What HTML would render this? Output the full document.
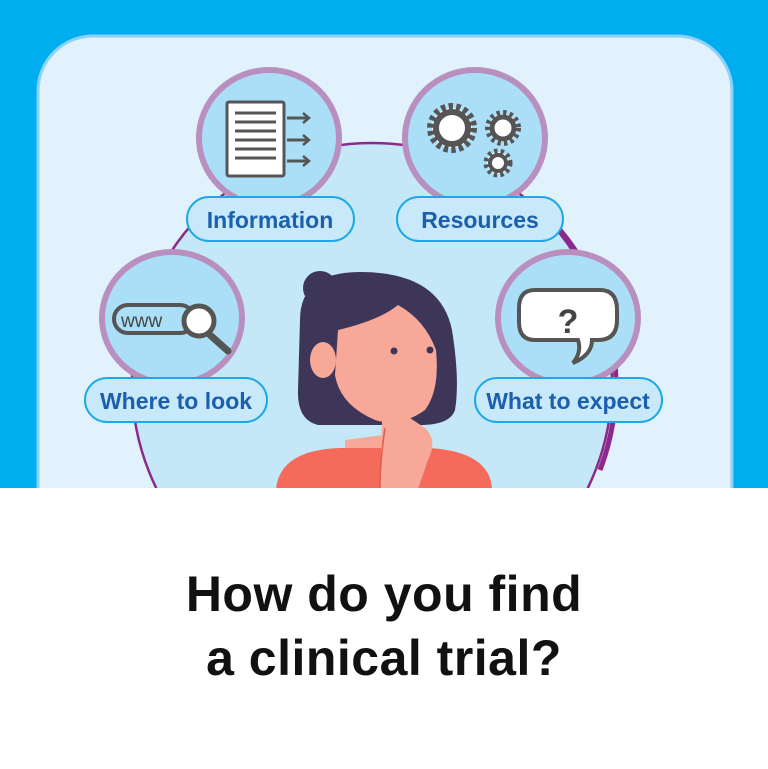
<!DOCTYPE html>
<html><head><meta charset="utf-8"><style>
html,body{margin:0;padding:0;background:#fff;}
body{width:768px;height:769px;position:relative;overflow:hidden;font-family:"Liberation Sans",sans-serif;}
.title{position:absolute;left:0;width:768px;text-align:center;font-size:50px;font-weight:bold;color:#111;line-height:64px;top:562px;letter-spacing:0.5px;}
</style></head><body>
<svg width="768" height="488" style="position:absolute;left:0;top:0" xmlns="http://www.w3.org/2000/svg">
<defs><clipPath id="pc"><rect x="38" y="36" width="694" height="500" rx="55"/></clipPath></defs>
<rect width="768" height="488" fill="#00AEEF"/>
<rect x="38" y="36" width="694" height="520" rx="55" fill="#E1F2FC" stroke="#8CD2F4" stroke-width="3"/>
<g clip-path="url(#pc)">
<circle cx="372" cy="383" r="240" fill="#C5E8F8" stroke="#8B2A8C" stroke-width="2.5"/>
<path d="M560 230 A240 240 0 0 1 600 470" fill="none" stroke="#8B2A8C" stroke-width="5"/>
<circle cx="320" cy="288" r="17" fill="#3D3658"/>
<path d="M300 320 Q300 272 360 272 Q440 272 452 330 Q460 380 455 410 Q450 425 420 425 L318 425 Q297 420 298 390 Z" fill="#3D3658"/>
<path d="M345 440 L345 470 L420 470 L420 430 Z" fill="#F8A898"/>
<path d="M338 330 Q380 320 398 305 Q425 320 436 350 Q440 390 425 410 Q400 428 375 420 Q340 405 335 375 Z" fill="#F8A898"/>
<ellipse cx="323" cy="360" rx="13" ry="18" fill="#F8A898"/>
<path d="M338 330 Q380 318 398 303 L400 290 Q360 290 340 320 Z" fill="#3D3658"/>
<circle cx="394" cy="351" r="3.5" fill="#3D3658"/><circle cx="430" cy="350" r="3.5" fill="#3D3658"/>
<path d="M276 489 Q280 450 340 448 L430 448 Q490 452 492 489 Z" fill="#F46B5B"/>
<path d="M380 489 L382 420 Q395 405 410 418 L425 428 Q438 440 428 460 L418 489 Z" fill="#F8A898"/>
<path d="M385 428 Q380 460 380 489" stroke="#D9604F" stroke-width="1.5" fill="none"/>
</g>
<g fill="#ABDFF8" stroke="#B98FC0" stroke-width="6">
<ellipse cx="269" cy="138" rx="70" ry="68"/>
<ellipse cx="475" cy="138" rx="70" ry="68"/>
<ellipse cx="172" cy="318" rx="70" ry="66"/>
<ellipse cx="568" cy="318" rx="70" ry="66"/>
</g>
<rect x="227" y="102" width="57" height="74" fill="#fff" stroke="#555" stroke-width="3" rx="2"/>
<g stroke="#555" stroke-width="3">
<line x1="235" y1="113" x2="276" y2="113"/><line x1="235" y1="122" x2="276" y2="122"/><line x1="235" y1="131" x2="276" y2="131"/><line x1="235" y1="140" x2="276" y2="140"/><line x1="235" y1="149" x2="276" y2="149"/><line x1="235" y1="158" x2="276" y2="158"/>
<line x1="287" y1="118" x2="309" y2="118"/><line x1="287" y1="140" x2="309" y2="140"/><line x1="287" y1="161" x2="309" y2="161"/>
</g>
<g fill="none" stroke="#555" stroke-width="2.5"><path d="M303 113l6 5-6 5M303 135l6 5-6 5M303 156l6 5-6 5"/></g>
<circle cx="452" cy="128" r="20" fill="#fff" stroke="#555" stroke-width="10" stroke-dasharray="4 3"/>
<circle cx="452" cy="128" r="16" fill="#fff" stroke="#555" stroke-width="6"/>
<circle cx="503" cy="128" r="14" fill="#fff" stroke="#555" stroke-width="8" stroke-dasharray="3 3"/>
<circle cx="503" cy="128" r="11" fill="#fff" stroke="#555" stroke-width="5"/>
<circle cx="498" cy="163" r="11" fill="#fff" stroke="#555" stroke-width="7" stroke-dasharray="3 3"/>
<circle cx="498" cy="163" r="8" fill="#fff" stroke="#555" stroke-width="4"/>
<rect x="114" y="305" width="80" height="28" rx="14" fill="#ABDFF8" stroke="#555" stroke-width="4"/>
<text x="121" y="327" font-size="19" font-family="Liberation Sans,sans-serif" fill="#444">www</text>
<line x1="210" y1="335" x2="228" y2="351" stroke="#555" stroke-width="7" stroke-linecap="round"/>
<circle cx="199" cy="321" r="15" fill="#fff" stroke="#555" stroke-width="5"/>
<path d="M535 290 L600 290 Q617 290 617 310 L617 320 Q617 340 598 340 L592 340 Q592 355 573 363 Q582 352 578 340 L535 340 Q519 340 519 322 L519 308 Q519 290 535 290 Z" fill="#fff" stroke="#555" stroke-width="4"/>
<text x="568" y="333" font-size="34" font-weight="bold" text-anchor="middle" font-family="Liberation Sans,sans-serif" fill="#444">?</text>
<g fill="#C8E9F9" stroke="#1DA8E6" stroke-width="2">
<rect x="187" y="197" width="167" height="44" rx="22"/>
<rect x="397" y="197" width="166" height="44" rx="22"/>
<rect x="85" y="378" width="182" height="44" rx="22"/>
<rect x="475" y="378" width="187" height="44" rx="22"/>
</g>
<g font-family="Liberation Sans Narrow,Liberation Sans,sans-serif" font-weight="bold" font-size="23" fill="#1B5FAE" text-anchor="middle">
<text x="270" y="228">Information</text>
<text x="480" y="228">Resources</text>
<text x="176" y="409">Where to look</text>
<text x="568" y="409">What to expect</text>
</g>
</svg>
<div class="title">How do you find<br>a clinical trial?</div>
</body></html>
